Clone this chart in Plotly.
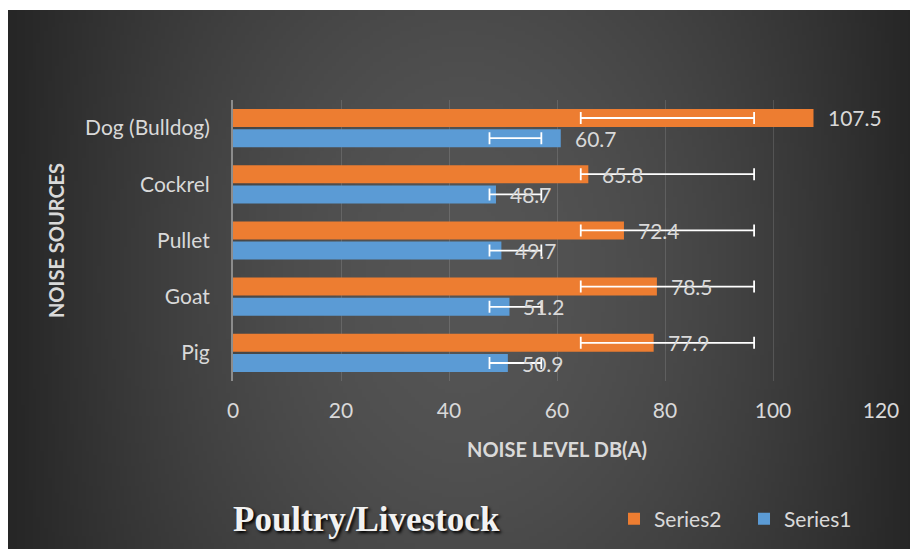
import base64, struct, zlib
import numpy as np
import plotly.graph_objects as go

# ---------------- data ----------------
categories = ["Pig", "Goat", "Pullet", "Cockrel", "Dog (Bulldog)"]
series1 = [50.9, 51.2, 49.7, 48.7, 60.7]
series2 = [77.9, 78.5, 72.4, 65.8, 107.5]
series1_err_low = [47.5, 47.5, 47.5, 47.5, 47.5]
series1_err_high = [57.1, 57.1, 57.1, 57.1, 57.1]
series2_err_low = [64.4, 64.4, 64.4, 64.4, 64.4]
series2_err_high = [96.5, 96.5, 96.5, 96.5, 96.5]
x_ticks = [0, 20, 40, 60, 80, 100, 120]

ORANGE = "#ED7D31"
BLUE = "#5B9BD5"
TXT = "#D9D9D9"
FONT = "Lato"

# ---------------- background gradient image ----------------
def gradient_png(w=240, h=140):
    xs = np.linspace(-1, 1, w)
    ys = np.linspace(-1, 1, h)
    X, Y = np.meshgrid(xs, ys)
    t = (1 - np.abs(X) ** 1.8) * (1 - 0.22 * Y ** 2)
    c = 38 + 47 * np.clip(t, 0, 1)
    arr = np.repeat(c[:, :, None], 3, axis=2).astype(np.uint8)
    raw = b"".join(b"\x00" + arr[i].tobytes() for i in range(h))

    def chunk(tag, data):
        return (struct.pack(">I", len(data)) + tag + data
                + struct.pack(">I", zlib.crc32(tag + data) & 0xFFFFFFFF))

    png = (b"\x89PNG\r\n\x1a\n"
           + chunk(b"IHDR", struct.pack(">IIBBBBB", w, h, 8, 2, 0, 0, 0))
           + chunk(b"IDAT", zlib.compress(raw, 9))
           + chunk(b"IEND", b""))
    return "data:image/png;base64," + base64.b64encode(png).decode()

# layout geometry (figure pixels; page has an 8px body margin)
PAGE_OFF = 8
W, H = 910, 541
ML, MT = 225, 92
PW, PH = 648, 281
MR, MB = W - ML - PW, H - MT - PH

def px_to_paper_x(page_px):
    return (page_px - PAGE_OFF - ML) / PW

def px_to_paper_y(page_py):
    return (MT + PH - (page_py - PAGE_OFF)) / PH

pos = list(range(len(categories)))
BAR_W = 0.32
OFF2 = 0.02
OFF1 = -0.34
c2 = [p + OFF2 + BAR_W / 2 for p in pos]
c1 = [p + OFF1 + BAR_W / 2 for p in pos]

fig = go.Figure()
fig.add_trace(go.Bar(name="Series1", y=pos, x=series1, orientation="h",
                     width=BAR_W, offset=OFF1, marker=dict(color=BLUE, line=dict(width=0))))
fig.add_trace(go.Bar(name="Series2", y=pos, x=series2, orientation="h",
                     width=BAR_W, offset=OFF2, marker=dict(color=ORANGE, line=dict(width=0))))

def err_trace(lows, highs, ys):
    mids = [(a + b) / 2 for a, b in zip(lows, highs)]
    half = [(b - a) / 2 for a, b in zip(lows, highs)]
    return go.Scatter(x=mids, y=ys, mode="markers", showlegend=False, hoverinfo="skip",
                      marker=dict(size=1, opacity=0),
                      error_x=dict(type="data", array=half, symmetric=True,
                                   color="#FFFFFF", thickness=1.8, width=6))

fig.add_trace(err_trace(series1_err_low, series1_err_high, c1))
fig.add_trace(err_trace(series2_err_low, series2_err_high, c2))

annotations = []
for vals, ys in ((series1, c1), (series2, c2)):
    for v, yy in zip(vals, ys):
        annotations.append(dict(x=v, y=yy, xref="x", yref="y", text=f"{v}",
                                showarrow=False, xanchor="left", yanchor="middle",
                                xshift=12, font=dict(family=FONT, size=21, color=TXT)))

annotations.append(dict(x=px_to_paper_x(366), y=px_to_paper_y(519), xref="paper", yref="paper",
                        text="<b>Poultry/Livestock</b>", showarrow=False,
                        xanchor="center", yanchor="middle",
                        font=dict(family="Liberation Serif", size=35, color="#F2F2F2",
                                  shadow="2px 2px 3px #000000")))

fig.update_layout(
    width=W, height=H,
    margin=dict(l=ML, r=MR, t=MT, b=MB, autoexpand=False),
    paper_bgcolor="#FFFFFF",
    plot_bgcolor="rgba(0,0,0,0)",
    barmode="overlay",
    showlegend=True,
    legend=dict(orientation="h", traceorder="reversed",
                x=px_to_paper_x(614), y=px_to_paper_y(519),
                xanchor="left", yanchor="middle",
                font=dict(family=FONT, size=21, color=TXT),
                entrywidth=85, itemwidth=30,
                bgcolor="rgba(0,0,0,0)"),
    annotations=annotations,
    images=[dict(source=gradient_png(), xref="paper", yref="paper",
                 x=px_to_paper_x(8), y=px_to_paper_y(10),
                 sizex=px_to_paper_x(917) - px_to_paper_x(8),
                 sizey=px_to_paper_y(10) - px_to_paper_y(549),
                 xanchor="left", yanchor="top", sizing="stretch", layer="below")],
    xaxis=dict(range=[0, 120], tickvals=x_ticks, showgrid=True, automargin=False,
               gridcolor="rgba(255,255,255,0.13)", gridwidth=1,
               zeroline=False, showline=False, ticks="",
               ticklabelstandoff=15,
               tickfont=dict(family=FONT, size=21, color=TXT),
               title=dict(text="<b>NOISE LEVEL DB(A)</b>", standoff=21,
                          font=dict(family=FONT, size=20, color=TXT))),
    yaxis=dict(range=[-0.5, 4.5], tickvals=pos, ticktext=categories,
               showgrid=False, zeroline=False, showline=True, automargin=False,
               linecolor="#8C8C8C", linewidth=2, ticks="",
               ticklabelstandoff=17,
               tickfont=dict(family=FONT, size=21, color=TXT),
               title=dict(text="<b>NOISE SOURCES</b>", standoff=15,
                          font=dict(family=FONT, size=20, color=TXT))),
)

fig.write_html("out.html")
